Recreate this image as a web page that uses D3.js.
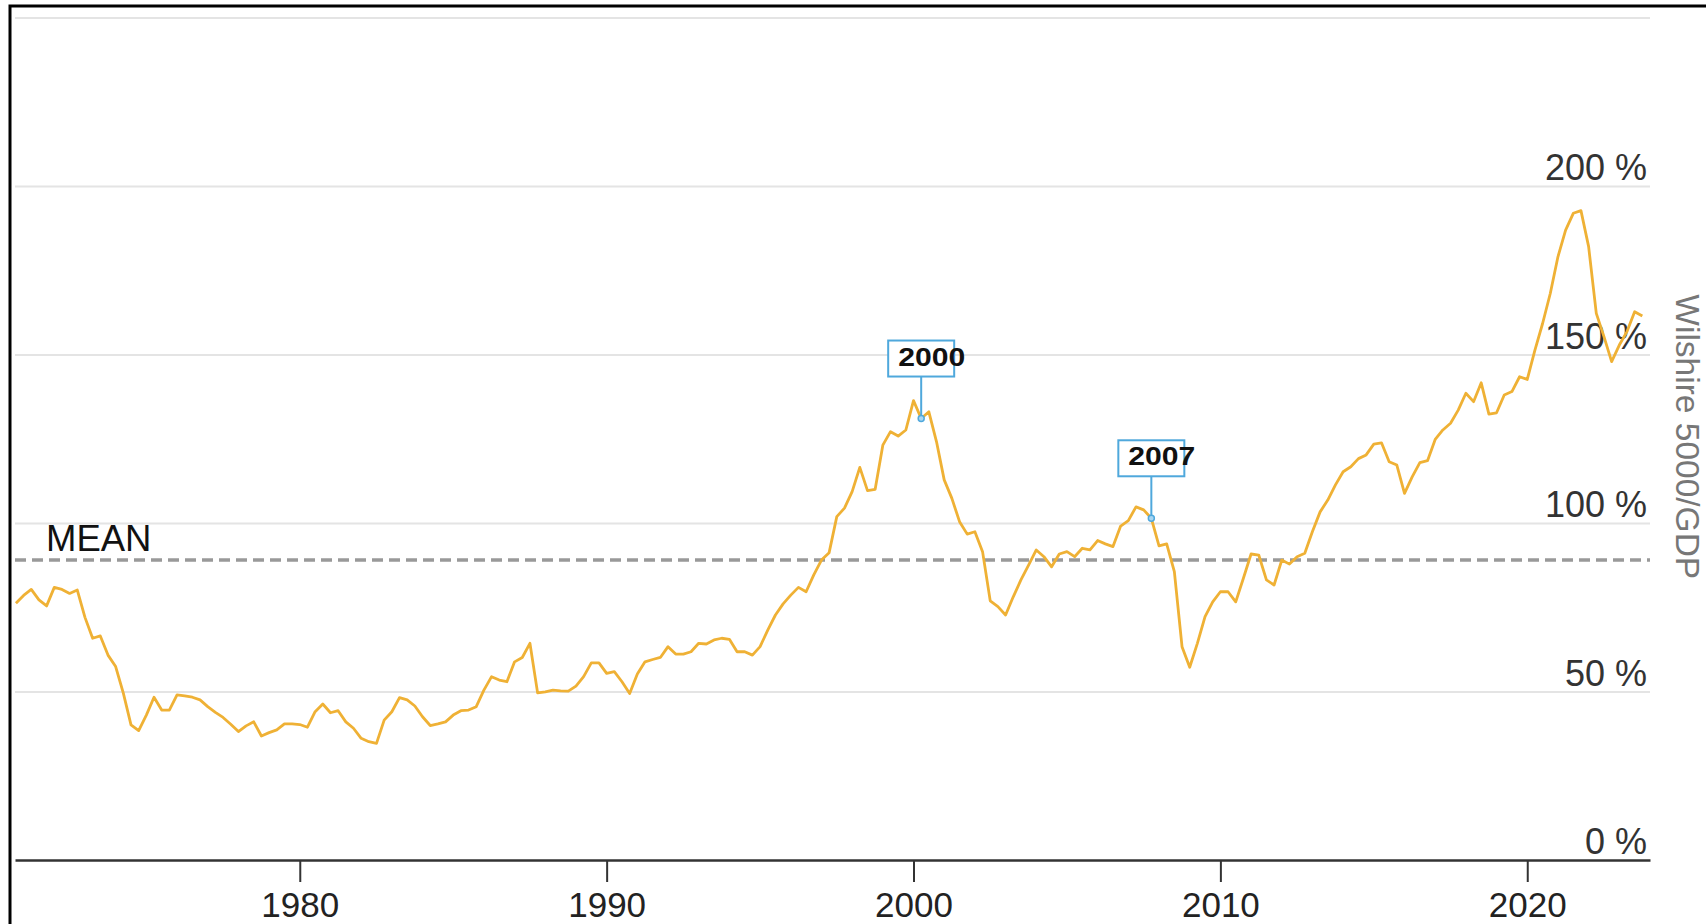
<!DOCTYPE html>
<html>
<head>
<meta charset="utf-8">
<script src="https://cdn.jsdelivr.net/npm/d3@7"></script>
<style>
  html, body { margin: 0; padding: 0; background: #fff; overflow: hidden; }
  text { font-family: "Liberation Sans", Arial, sans-serif; }
</style>
</head>
<body>
<svg id="chart" width="1706" height="924"></svg>
<script>
// Wilshire 5000 total market cap as a share of GDP, quarterly, starting Q4 1970
const startQuarter = 1970.75;
const ratio = [
  76.2,
  78.5, 80.3, 77.2, 75.4,     // 1971
  80.9, 80.3, 79.1, 80.1,     // 1972
  72.0, 65.8, 66.5, 60.8,     // 1973
  57.4, 49.5, 40.1, 38.4,     // 1974
  43.0, 48.3, 44.5, 44.5,     // 1975
  49.0, 48.7, 48.3, 47.5,     // 1976
  45.5, 43.8, 42.3, 40.3,     // 1977
  38.1, 39.8, 41.0, 36.8,     // 1978
  37.8, 38.6, 40.4, 40.4,     // 1979
  40.2, 39.4, 44.0, 46.3,     // 1980
  43.7, 44.3, 41.0, 39.1,     // 1981
  36.1, 35.1, 34.6, 41.5,     // 1982
  44.0, 48.2, 47.5, 45.7,     // 1983
  42.5, 39.9, 40.4, 41.0,     // 1984
  43.0, 44.3, 44.5, 45.5,     // 1985
  50.4, 54.4, 53.4, 52.9,     // 1986
  58.8, 60.1, 64.3, 49.6,     // 1987
  49.9, 50.4, 50.2, 50.1,     // 1988
  51.6, 54.4, 58.5, 58.5,     // 1989
  55.4, 55.9, 52.9, 49.4,     // 1990
  55.2, 58.8, 59.5, 60.1,     // 1991
  63.3, 61.1, 61.1, 61.8,     // 1992
  64.3, 64.1, 65.3, 65.8,     // 1993
  65.5, 61.8, 61.8, 60.8,     // 1994
  63.3, 68.2, 72.7, 76.0,     // 1995
  78.6, 80.9, 79.6, 84.6,     // 1996
  89.0, 91.2, 101.9, 104.4,   // 1997
  109.3, 116.5, 109.6, 110.0, // 1998
  123.1, 127.1, 125.8, 127.6, // 1999
  136.3, 131.0, 133.0, 124.1, // 2000
  112.8, 107.3, 100.4, 96.7,  // 2001
  97.4, 91.5, 76.9, 75.2,     // 2002
  72.7, 78.1, 83.1, 87.5,     // 2003
  92.0, 90.0, 87.0, 90.8,     // 2004
  91.5, 90.0, 92.5, 92.0,     // 2005
  94.8, 93.8, 93.0, 99.1,     // 2006
  100.7, 104.8, 103.9, 101.4, // 2007
  93.2, 93.8, 85.6, 63.3,     // 2008
  57.2, 64.3, 72.2, 76.6,     // 2009
  79.6, 79.6, 76.6, 83.6,     // 2010
  90.8, 90.5, 83.1, 81.6,     // 2011
  89.0, 87.8, 90.0, 91.0,     // 2012
  97.5, 103.3, 106.8, 111.3,  // 2013
  115.2, 116.7, 119.1, 120.2, // 2014
  123.4, 123.8, 118.2, 117.2, // 2015
  108.8, 113.7, 117.9, 118.5, // 2016
  124.8, 127.6, 129.6, 133.5, // 2017
  138.5, 136.0, 141.6, 132.3, // 2018
  132.7, 138.0, 139.0, 143.4, // 2019
  142.6, 151.3, 159.2, 168.1, // 2020
  179.0, 186.9, 191.9, 192.7, // 2021
  182.0, 162.2, 155.3, 147.9, // 2022
  152.8, 156.8, 162.7, 161.4  // 2023
];
const meanValue = 89;
const yTicks = [0, 50, 100, 150, 200, 250];
const yTickLabels = ["0 %", "50 %", "100 %", "150 %", "200 %"];
const xTicks = [1980, 1990, 2000, 2010, 2020];
const calloutLabels = ["2000", "2007"];
const calloutDates = [2000.25, 2007.75];

const series = ratio.map((v, i) => ({ t: startQuarter + i * 0.25, v }));

const svg = d3.select("#chart");
const left = 15, right = 1650;
const x = d3.scaleLinear().domain([1970.72, 2024.0]).range([left, right]);
const y = d3.scaleLinear().domain([0, 250]).range([860, 17.5]);

// horizontal gridlines
const grid = svg.append("g")
  .attr("transform", `translate(${left},0)`)
  .call(d3.axisLeft(y).tickValues(yTicks.slice(1)).tickSize(-(right - left)).tickFormat(""));
grid.select(".domain").remove();
grid.selectAll(".tick line").attr("stroke", "#e4e4e4").attr("stroke-width", 2);

// percentage labels sitting on the right end of each gridline
svg.append("g").selectAll("text")
  .data(yTickLabels)
  .join("text")
  .attr("x", 1647)
  .attr("y", (d, i) => y(yTicks[i]) - 6)
  .attr("text-anchor", "end")
  .attr("font-size", 36)
  .attr("fill", "#333")
  .text(d => d);

// axis title on the right
svg.append("text")
  .attr("transform", `translate(1675.5,${y(125) - 2}) rotate(90)`)
  .attr("text-anchor", "middle")
  .attr("font-size", 33.5)
  .attr("fill", "#777")
  .text("Wilshire 5000/GDP");

// long-run mean
svg.append("line")
  .attr("x1", left).attr("x2", right)
  .attr("y1", y(meanValue)).attr("y2", y(meanValue))
  .attr("stroke", "#999").attr("stroke-width", 3.5)
  .attr("stroke-dasharray", "11,6");
svg.append("text")
  .attr("x", 46).attr("y", y(meanValue) - 9)
  .attr("font-size", 36.5)
  .attr("fill", "#111")
  .text("MEAN");

// the ratio line
svg.append("path")
  .datum(series)
  .attr("fill", "none")
  .attr("stroke", "#efb135")
  .attr("stroke-width", 2.8)
  .attr("stroke-linejoin", "round")
  .attr("d", d3.line().x(d => x(d.t)).y(d => y(d.v)));

// time axis
const xAxis = svg.append("g")
  .attr("transform", `translate(0,${y(0)})`)
  .call(d3.axisBottom(x).tickValues(xTicks).tickFormat(d3.format("d"))
    .tickSize(22).tickSizeOuter(0).tickPadding(10));
xAxis.select(".domain").attr("stroke", "#333").attr("stroke-width", 2.5);
xAxis.selectAll(".tick line").attr("stroke", "#333").attr("stroke-width", 2);
xAxis.selectAll(".tick text")
  .attr("font-size", 35)
  .attr("font-family", "Liberation Sans, Arial, sans-serif")
  .attr("fill", "#222");

// peak callouts
const blue = "#4fa8dc";
calloutLabels.forEach((label, i) => {
  const t = calloutDates[i];
  const v = series.find(d => Math.abs(d.t - t) < 1e-6).v;
  const px = x(t), py = y(v);
  const g = svg.append("g");
  g.append("line")
    .attr("x1", px).attr("x2", px)
    .attr("y1", py - 42).attr("y2", py)
    .attr("stroke", blue).attr("stroke-width", 2);
  g.append("rect")
    .attr("x", px - 33).attr("y", py - 78)
    .attr("width", 66).attr("height", 36)
    .attr("fill", "#fff")
    .attr("stroke", blue).attr("stroke-width", 2);
  g.append("text")
    .attr("x", px - 23).attr("y", py - 53)
    .attr("font-weight", "bold")
    .attr("font-size", 26)
    .attr("textLength", 67)
    .attr("lengthAdjust", "spacingAndGlyphs")
    .attr("fill", "#111")
    .text(label);
  g.append("circle")
    .attr("cx", px).attr("cy", py).attr("r", 3)
    .attr("fill", "#a9d6f2").attr("stroke", blue).attr("stroke-width", 1.5);
});

// outer frame
svg.append("rect")
  .attr("x", 10).attr("y", 6)
  .attr("width", 1760).attr("height", 1000)
  .attr("fill", "none").attr("stroke", "#000").attr("stroke-width", 3);
</script>
</body>
</html>
